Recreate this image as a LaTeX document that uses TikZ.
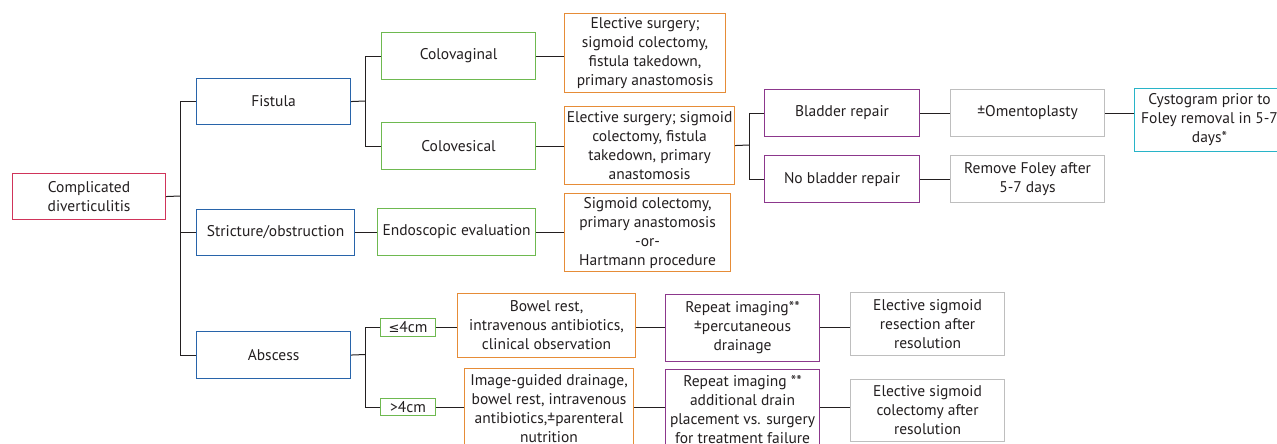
\documentclass[tikz,border=0pt]{standalone}
\usepackage{fontspec}
\setmainfont{PT Sans}
\newfontfamily\symf{DejaVu Sans}
\definecolor{cred}{RGB}{208,52,90}
\definecolor{cblue}{RGB}{40,100,170}
\definecolor{cgreen}{RGB}{110,185,80}
\definecolor{corange}{RGB}{230,140,55}
\definecolor{cpurple}{RGB}{140,55,140}
\definecolor{cgray}{RGB}{190,190,190}
\definecolor{ccyan}{RGB}{40,180,200}
\definecolor{ctext}{RGB}{35,31,32}
\begin{document}
\begin{tikzpicture}[x=1pt,y=-1pt,
  font=\fontsize{15.5}{19}\selectfont,
  box/.style={draw, line width=1.1pt, inner sep=0pt, align=center, anchor=north west, text=ctext},
  conn/.style={draw=ctext, line width=1pt}]
\clip (0,0) rectangle (1277,444);
\fill[white] (0,0) rectangle (1277,444);
% level 0
\node[box, draw=cred, minimum width=153pt, minimum height=46pt] (root) at (12,173) {Complicated\\diverticulitis};
% level 1
\node[box, draw=cblue, minimum width=154pt, minimum height=46pt] (fist) at (196,78) {Fistula};
\node[box, draw=cblue, minimum width=158pt, minimum height=46pt] (stric) at (196,209) {Stricture/obstruction};
\node[box, draw=cblue, minimum width=154pt, minimum height=47pt] (absc) at (196,331) {Abscess};
% level 2
\node[box, draw=cgreen, minimum width=154pt, minimum height=47pt] (cvag) at (381,32) {Colovaginal};
\node[box, draw=cgreen, minimum width=154pt, minimum height=47pt] (cves) at (381,122) {Colovesical};
\node[box, draw=cgreen, minimum width=158pt, minimum height=47pt] (endo) at (377,208) {Endoscopic evaluation};
\node[box, draw=cgreen, minimum width=55pt, minimum height=18pt] (le4) at (380,318) {{\symf\fontsize{13}{14}\selectfont ≤}4cm};
\node[box, draw=cgreen, minimum width=55pt, minimum height=17pt] (gt4) at (380,398) {>4cm};
% level 3
\node[box, draw=corange, minimum width=161pt, minimum height=79pt] (o1) at (564,13) {Elective surgery;\\sigmoid colectomy,\\fistula takedown,\\primary anastomosis};
\node[box, draw=corange, minimum width=170pt, minimum height=78pt] (o2) at (564,106) {Elective surgery; sigmoid\\colectomy, fistula\\takedown, primary\\anastomosis};
\node[box, draw=corange, minimum width=166pt, minimum height=78pt] (o3) at (564,193) {Sigmoid colectomy,\\primary anastomosis\\-or-\\Hartmann procedure};
\node[box, draw=corange, minimum width=178pt, minimum height=64pt] (o4) at (457,293) {Bowel rest,\\intravenous antibiotics,\\clinical observation};
\node[box, draw=corange, minimum width=169pt, minimum height=80pt] (o5) at (464,368) {Image-guided drainage,\\bowel rest, intravenous\\antibiotics,±parenteral\\nutrition};
% level 4
\node[box, draw=cpurple, minimum width=155pt, minimum height=47pt] (blad) at (764,89) {Bladder repair};
\node[box, draw=cpurple, minimum width=155pt, minimum height=47pt] (nobl) at (764,155) {No bladder repair};
\node[box, draw=cpurple, minimum width=154pt, minimum height=67pt] (p1) at (665,294) {Repeat imaging**\\±percutaneous\\drainage};
\node[box, draw=cpurple, minimum width=154pt, minimum height=80pt] (p2) at (665,369) {Repeat imaging **\\additional drain\\placement vs. surgery\\for treatment failure};
% level 5
\node[box, draw=cgray, minimum width=154pt, minimum height=47pt] (omen) at (950,89) {±Omentoplasty};
\node[box, draw=cgray, minimum width=154pt, minimum height=47pt] (remf) at (950,155) {Remove Foley after\\5-7 days};
\node[box, draw=cgray, minimum width=154pt, minimum height=63pt] (g1) at (850,292) {Elective sigmoid\\resection after\\resolution};
\node[box, draw=cgray, minimum width=154pt, minimum height=62pt] (g2) at (850,379) {Elective sigmoid\\colectomy after\\resolution};
% level 6
\node[box, draw=ccyan, minimum width=150pt, minimum height=63pt] (cyst) at (1134,88) {Cystogram prior to\\Foley removal in 5-7\\days*};
% junctions
\coordinate (j1) at (180,196);
\coordinate (j2) at (365,101);
\coordinate (j3) at (365,354.5);
\coordinate (j4) at (749,145);
% connectors
\draw[conn] (root.east) -- (j1);
\draw[conn] (fist.west) -| (j1);
\draw[conn] (stric.west) -| (j1);
\draw[conn] (absc.west) -| (j1);
\draw[conn] (fist.east) -- (j2);
\draw[conn] (cvag.west) -| (j2);
\draw[conn] (cves.west) -| (j2);
\draw[conn] (absc.east) -- (j3);
\draw[conn] (le4.west) -| (j3);
\draw[conn] (gt4.west) -| (j3);
\draw[conn] (stric.east) -- (stric.east -| endo.west);
\draw[conn] (endo.east) -- (endo.east -| o3.west);
\draw[conn] (cvag.east) -- (cvag.east -| o1.west);
\draw[conn] (cves.east) -- (cves.east -| o2.west);
\draw[conn] (o2.east) -- (j4);
\draw[conn] (blad.west) -| (j4);
\draw[conn] (nobl.west) -| (j4);
\draw[conn] (blad.east) -- (omen.west);
\draw[conn] (omen.east) -- (omen.east -| cyst.west);
\draw[conn] (nobl.east) -- (remf.west);
\draw[conn] (le4.east) -- (le4.east -| o4.west);
\draw[conn] (le4.east -| o4.east) -- (le4.east -| p1.west);
\draw[conn] (le4.east -| p1.east) -- (le4.east -| g1.west);
\draw[conn] (gt4.east) -- (gt4.east -| o5.west);
\draw[conn] (gt4.east -| o5.east) -- (gt4.east -| p2.west);
\draw[conn] (gt4.east -| p2.east) -- (gt4.east -| g2.west);
\end{tikzpicture}
\end{document}
